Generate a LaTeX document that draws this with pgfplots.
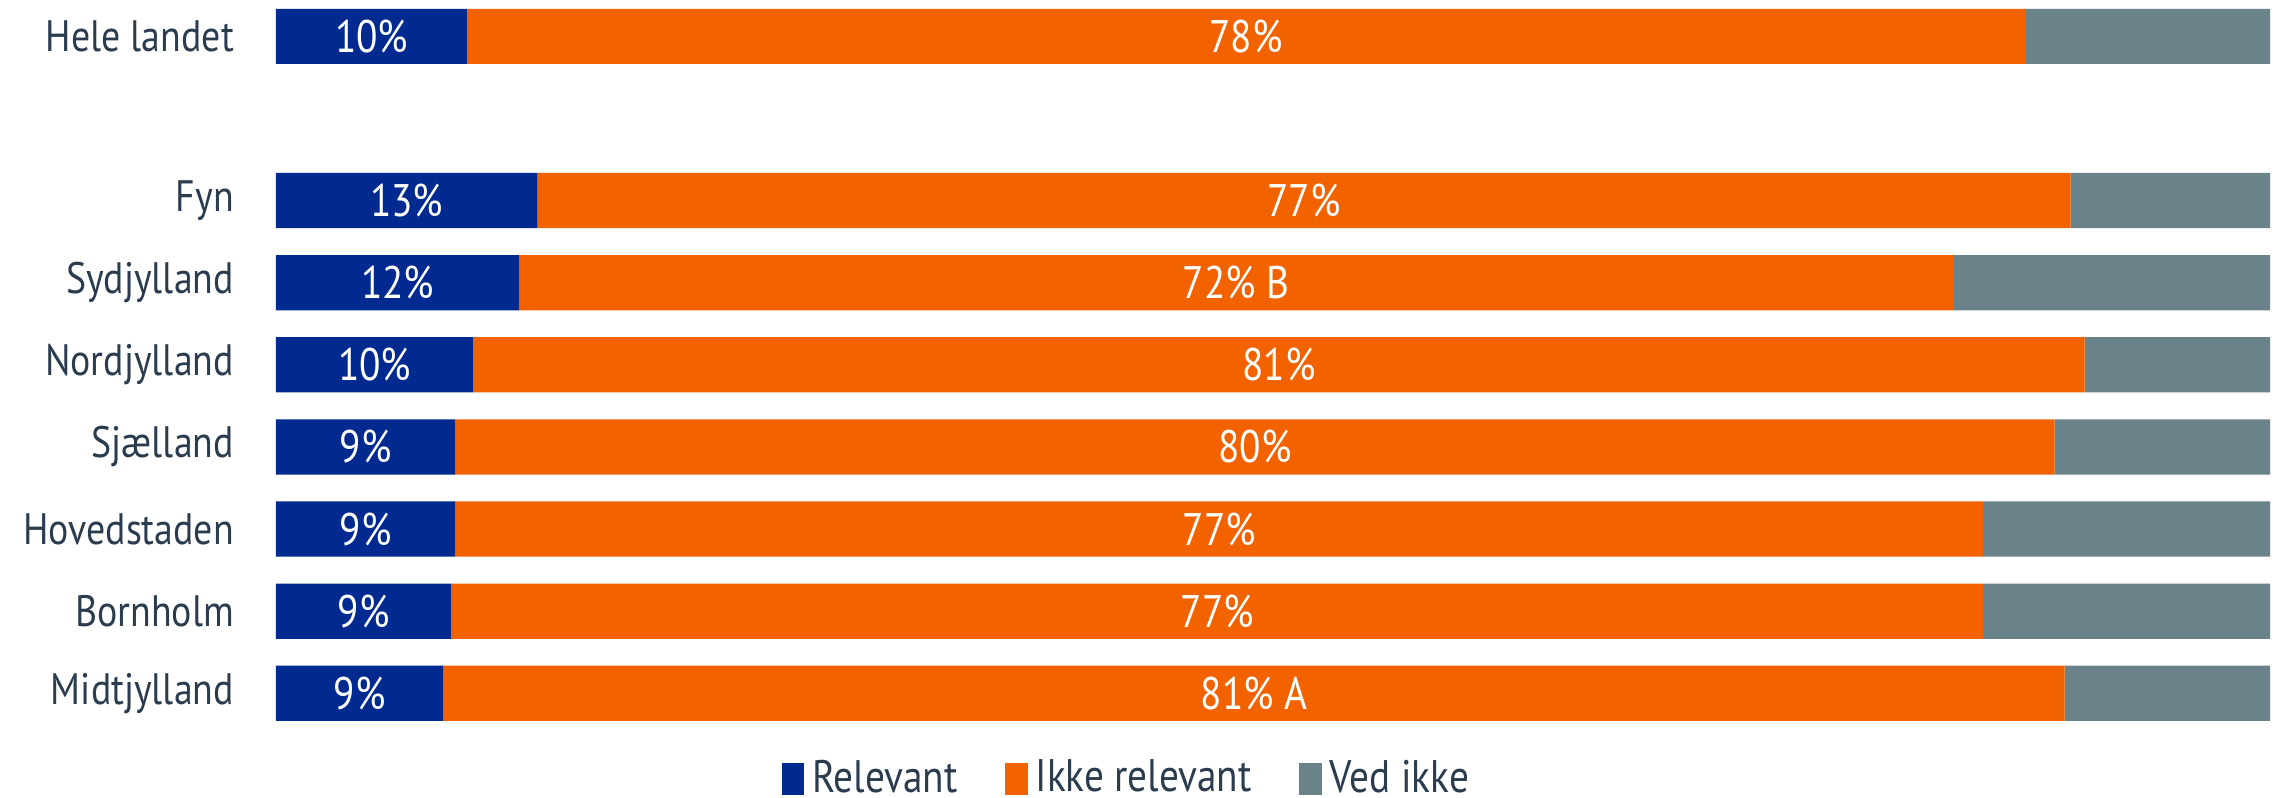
\documentclass[border=0pt]{standalone}
\usepackage{pgfplots}
\pgfplotsset{compat=1.18}
\usepackage{fontspec}
\setmainfont[FakeStretch=0.86]{PT Sans}
\definecolor{cblue}{HTML}{002A8F}
\definecolor{corange}{HTML}{F26300}
\definecolor{cgray}{HTML}{6A828A}
\definecolor{ctext}{HTML}{2A3C4E}
\begin{document}
\begin{tikzpicture}
\begin{axis}[
  scale only axis,
  width=498.5pt, height=182.7pt,
  xbar stacked,
  bar width=13.8pt,
  xmin=0, xmax=100,
  ymin=-0.45, ymax=8.45,
  axis line style={draw=none},
  xtick=\empty,
  ytick={0,1,2,3,4,5,6,8},
  yticklabels={Midtjylland,Bornholm,Hovedstaden,Sjælland,Nordjylland,Sydjylland,Fyn,Hele landet},
  major tick length=0pt,
  yticklabel style={font=\fontsize{11}{13}\selectfont, text=ctext, xshift=-7pt},
  clip=false,
  legend columns=3,
  legend style={draw=none, fill=none, at={(rel axis cs:0.428,0)}, anchor=center, yshift=-12.2pt,
    font=\fontsize{11.4}{13}\selectfont, text=ctext, inner sep=1pt,
    /tikz/every even column/.append style={column sep=10pt}},
  legend image code/.code={\fill[#1] (0pt,-4pt) rectangle (5.6pt,4pt);},
]
\addplot[fill=cblue, draw=none] coordinates {(9.6,8) (13.1,6) (12.2,5) (9.9,4) (9.0,3) (9.0,2) (8.8,1) (8.4,0)};
\addlegendentry{Relevant}
\addplot[fill=corange, draw=none] coordinates {(78.1,8) (76.9,6) (71.9,5) (80.8,4) (80.2,3) (76.6,2) (76.8,1) (81.3,0)};
\addlegendentry{Ikke relevant}
\addplot[fill=cgray, draw=none] coordinates {(12.3,8) (10.0,6) (15.9,5) (9.3,4) (10.8,3) (14.4,2) (14.4,1) (10.3,0)};
\addlegendentry{Ved ikke}
\end{axis}
\begin{axis}[
  scale only axis,
  width=498.5pt, height=182.7pt,
  xmin=0, xmax=100,
  ymin=-0.45, ymax=8.45,
  hide axis,
  clip=false,
]
\addplot[only marks, mark=none, point meta=explicit symbolic,
  nodes near coords, nodes near coords align=center,
  every node near coord/.append style={font=\fontsize{11.4}{13}\selectfont, text=white, anchor=center}]
  coordinates {
  (4.8,8) [10\%] (6.55,6) [13\%] (6.1,5) [12\%] (4.95,4) [10\%] (4.5,3) [9\%] (4.5,2) [9\%] (4.4,1) [9\%] (4.2,0) [9\%]
  (48.65,8) [78\%] (51.55,6) [77\%] (48.15,5) [72\% B] (50.3,4) [81\%] (49.1,3) [80\%] (47.3,2) [77\%] (47.2,1) [77\%] (49.05,0) [81\% A]
  };
\end{axis}
\pgfresetboundingbox
\useasboundingbox (-69pt,-16.7pt) rectangle (500.25pt,182.55pt);
\end{tikzpicture}
\end{document}
